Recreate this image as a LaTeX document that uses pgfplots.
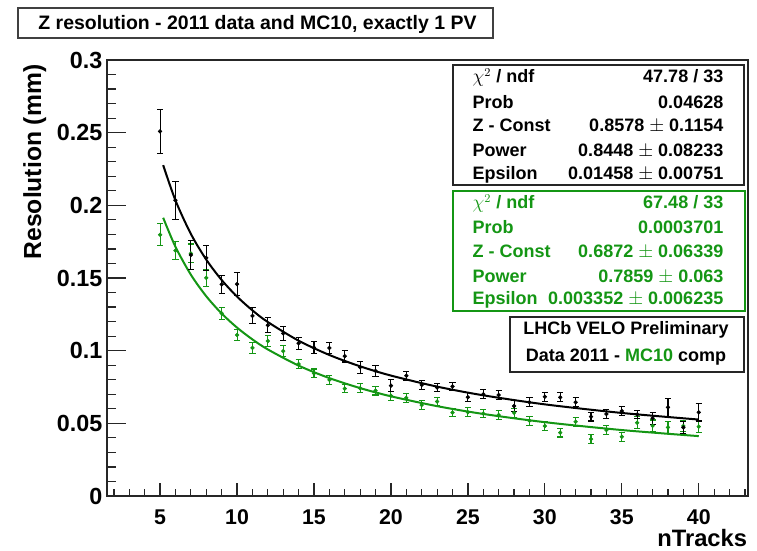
\documentclass[border=0pt]{standalone}
\usepackage{pgfplots}
\pgfplotsset{compat=1.18}
\usepackage{pgfplotstable}
\usepackage{fontspec}
\setmainfont{Liberation Sans}
\definecolor{rgreen}{RGB}{20,150,20}

\pgfplotstableread{
x y e
5 0.2509 0.015
6 0.2035 0.013
7 0.1659 0.010
8 0.1639 0.0085
9 0.1456 0.006
10 0.1458 0.008
11 0.1239 0.0055
12 0.1175 0.005
13 0.1119 0.005
14 0.1051 0.004
15 0.1021 0.004
16 0.1019 0.004
17 0.0962 0.004
18 0.0886 0.004
19 0.0861 0.004
20 0.0759 0.004
21 0.0828 0.003
22 0.0764 0.003
23 0.0746 0.003
24 0.0754 0.003
25 0.0680 0.003
26 0.0700 0.003
27 0.0695 0.003
28 0.0619 0.004
29 0.0645 0.003
30 0.0683 0.003
31 0.0679 0.003
32 0.0645 0.003
33 0.0546 0.003
34 0.0564 0.003
35 0.0585 0.003
36 0.0561 0.003
37 0.0535 0.004
38 0.0610 0.006
39 0.0472 0.004
40 0.0576 0.006
}\datatable

\pgfplotstableread{
x y e
5 0.1797 0.0075
6 0.1689 0.006
7 0.1669 0.0065
8 0.1501 0.006
9 0.1257 0.004
10 0.1108 0.004
11 0.1019 0.004
12 0.1066 0.004
13 0.0997 0.004
14 0.0908 0.003
15 0.0844 0.003
16 0.0799 0.003
17 0.0739 0.003
18 0.0741 0.003
19 0.0725 0.003
20 0.0690 0.003
21 0.0675 0.003
22 0.0626 0.003
23 0.0650 0.003
24 0.0574 0.003
25 0.0576 0.003
26 0.0567 0.003
27 0.0557 0.003
28 0.0573 0.003
29 0.0518 0.003
30 0.0481 0.003
31 0.0436 0.003
32 0.0511 0.003
33 0.0392 0.003
34 0.0454 0.003
35 0.0408 0.003
36 0.0504 0.004
37 0.0483 0.004
38 0.0472 0.004
39 0.0482 0.004
40 0.0477 0.004
}\mctable

\newcommand\statfont{\fontsize{13.5}{15}\selectfont\bfseries}
\newcommand\titlefont{\fontsize{14.6}{16}\selectfont\bfseries}
\newcommand\labfont{\fontsize{18.5}{20}\selectfont\bfseries}

\begin{document}
\begin{tikzpicture}[x=0.75pt,y=0.75pt]
\useasboundingbox (0,0) rectangle (757,550);
\begin{axis}[
  at={(80.25pt,40.5pt)}, anchor=south west,
  scale only axis, width=480.75pt, height=327pt,
  xmin=1.55, xmax=43.2, ymin=0, ymax=0.3,
  xtick={5,10,...,40},
  minor xtick={2,3,...,43},
  ytick={0,0.05,0.1,0.15,0.2,0.25,0.3},
  yticklabels={0,0.05,0.1,0.15,0.2,0.25,0.3},
  minor ytick={0.01,0.02,0.03,0.04,0.06,0.07,0.08,0.09,0.11,0.12,0.13,0.14,0.16,0.17,0.18,0.19,0.21,0.22,0.23,0.24,0.26,0.27,0.28,0.29},
  tick pos=left, tick align=inside,
  axis line style={line width=1.1pt, black!85},
  major tick length=14pt, minor tick length=7pt,
  xtick style={/pgfplots/major tick length=10pt,/pgfplots/minor tick length=5pt},
  every tick/.style={black!85, line width=0.9pt},
  x tick label style={font=\fontsize{16}{18}\selectfont\bfseries, inner sep=1pt, yshift=-9pt},
  y tick label style={font=\fontsize{17.5}{19}\selectfont\bfseries},
  /pgf/number format/assume math mode=true,
]
\addplot[only marks, mark=*, mark size=1.4pt, color=rgreen,
  error bars/.cd, y dir=both, y explicit,
  error bar style={line width=0.8pt, rgreen},
  error mark options={rotate=90, mark size=2.3pt, line width=0.8pt, rgreen}]
  table[x=x, y=y, y error=e] {\mctable};
\addplot[rgreen, line width=1.5pt, smooth] coordinates {
(5.2,0.19145) (6,0.17144) (7,0.15226) (8,0.13743) (9,0.12557) (10,0.11586)
(11,0.10774) (12,0.10084) (14,0.08972) (16,0.08111) (18,0.07424) (20,0.06860)
(23,0.06182) (26,0.05645) (30,0.05080) (35,0.04538) (40,0.04120)};
\addplot[only marks, mark=*, mark size=1.4pt, color=black,
  error bars/.cd, y dir=both, y explicit,
  error bar style={line width=0.8pt, black},
  error mark options={rotate=90, mark size=2.3pt, line width=0.8pt, black}]
  table[x=x, y=y, y error=e] {\datatable};
\addplot[black, line width=1.5pt, smooth] coordinates {
(5.2,0.22764) (6,0.20338) (7,0.18033) (8,0.16265) (9,0.14862) (10,0.13721)
(11,0.12772) (12,0.11970) (14,0.10687) (16,0.09702) (18,0.08921) (20,0.08286)
(23,0.07526) (26,0.06928) (30,0.06305) (35,0.05714) (40,0.05260)};
\end{axis}

% title box
\draw[black!75, line width=1pt, fill=white] (18,512) rectangle (493,542);
\node[anchor=base, font=\titlefont] at (257.5,520) {Z resolution - 2011 data and MC10, exactly 1 PV};

% axis titles
\node[anchor=base east, font=\fontsize{17.8}{19}\selectfont\bfseries, inner sep=0.5pt] at (748,4) {nTracks};
\node[anchor=base east, rotate=90, font=\labfont] at (41,490) {Resolution (mm)};

% stat box 1
\draw[black!85, line width=1.1pt, fill=white] (453,365) rectangle (744,485);
\begin{scope}[every node/.style={font=\statfont}]
\node[anchor=base west] at (468,467) {$\chi^{2}$ / ndf};
\node[anchor=base east] at (728,467) {47.78 / 33};
\node[anchor=base west] at (468,441) {Prob};
\node[anchor=base east] at (728,441) {0.04628};
\node[anchor=base west] at (468,418.5) {Z - Const};
\node[anchor=base east] at (728,418.5) {0.8578 $\pm$ 0.1154};
\node[anchor=base west] at (468,393.5) {Power};
\node[anchor=base east] at (728,393.5) {0.8448 $\pm$ 0.08233};
\node[anchor=base west] at (468,370) {Epsilon};
\node[anchor=base east] at (728,370) {0.01458 $\pm$ 0.00751};
\end{scope}

% stat box 2
\draw[rgreen, line width=1.1pt, fill=white] (453,239) rectangle (745,359);
\begin{scope}[every node/.style={font=\statfont, text=rgreen}]
\node[anchor=base west] at (468,341) {$\chi^{2}$ / ndf};
\node[anchor=base east] at (728,341) {67.48 / 33};
\node[anchor=base west] at (468,316) {Prob};
\node[anchor=base east] at (728,316) {0.0003701};
\node[anchor=base west] at (468,292) {Z - Const};
\node[anchor=base east] at (728,292) {0.6872 $\pm$ 0.06339};
\node[anchor=base west] at (468,267.5) {Power};
\node[anchor=base east] at (728,267.5) {0.7859 $\pm$ 0.063};
\node[anchor=base west] at (468,245) {Epsilon};
\node[anchor=base east] at (728,245) {0.003352 $\pm$ 0.006235};
\end{scope}

% LHCb box
\draw[black!85, line width=1.1pt, fill=white] (510,178) rectangle (744,233);
\node[anchor=base, font=\statfont] at (626,215) {LHCb VELO Preliminary};
\node[anchor=base, font=\statfont] at (626,188) {Data 2011 - \textcolor{rgreen}{MC10} comp};
\end{tikzpicture}
\end{document}
